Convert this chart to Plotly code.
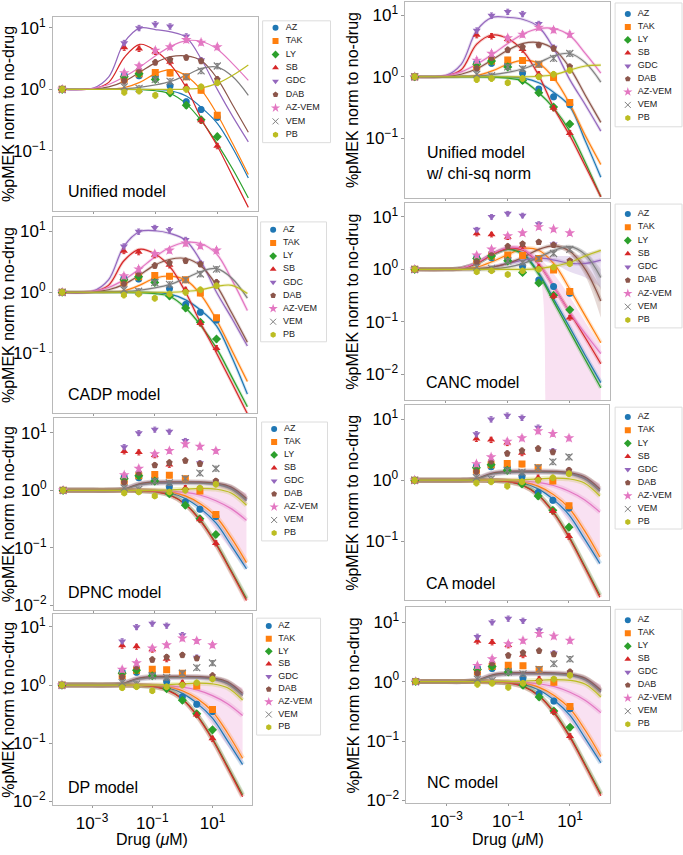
import plotly.graph_objects as go

W, H = 683, 855
FONT = "Liberation Sans, Arial, sans-serif"

DRUGS = ["AZ", "TAK", "LY", "SB", "GDC", "DAB", "AZ-VEM", "VEM", "PB"]
COLORS = ["#1f77b4", "#ff7f0e", "#2ca02c", "#d62728", "#9467bd",
          "#8c564b", "#e377c2", "#7f7f7f", "#bcbd22"]
SYMBOLS = ["circle", "square", "diamond", "triangle-up", "triangle-down",
           "pentagon", "star", "x-thin-open", "hexagon"]

# measured data (same in every panel)
DOSE = [0.0001, 0.01, 0.03, 0.1, 0.3, 1, 3, 10]
AZ_DATA = [1.0, 1.7, 1.66, 1.6, 1.15, 0.63, 0.47, 0.35]
TAK_DATA = [1.0, 1.46, 1.8, 1.88, 1.84, 1.6, 0.97, 0.38]
LY_DATA = [1.0, 1.6, 1.8, 1.45, 0.87, 0.55, 0.32, 0.17]
SB_DATA = [1.0, 4.8, 4.6, 4.1, 2.8, 1.1, 0.31, 0.12]
GDC_DATA = [1.0, 5.7, 10.0, 11.5, 10.6, 7.3, 3.0, None]
DAB_DATA = [1.0, 1.37, 2.05, 2.75, 3.05, 3.3, 2.9, 1.46]
AZVEM_DATA = [1.0, 1.85, 2.4, 4.3, 4.9, 6.4, 5.8, 4.9]
VEM_DATA = [1.0, 1.1, 1.04, 1.45, 1.35, 1.6, 2.0, 2.4]
PB_DATA = [1.0, 0.9, 0.94, 0.8, 0.94, 1.0, 1.1, 1.28]
DATA = [AZ_DATA, TAK_DATA, LY_DATA, SB_DATA, GDC_DATA, DAB_DATA,
        AZVEM_DATA, VEM_DATA, PB_DATA]

# model curves at these doses
CURVE_DOSE = [0.0001, 0.001, 0.00316, 0.01, 0.0316, 0.1, 0.316, 1, 3.16, 10, 31.6, 100]

UNI_AZ = [1, 1, 1, 1, 1, 0.99, 0.95, 0.78, 0.5, 0.28, 0.11, 0.036]
UNI_TAK = [1, 1, 1.01, 1.07, 1.3, 1.8, 2.1, 1.65, 0.95, 0.39, 0.13, 0.041]
UNI_LY = [1, 1, 1, 1, 0.99, 0.95, 0.85, 0.58, 0.3, 0.13, 0.05, 0.017]
UNI_SB = [1, 1.03, 1.3, 3.3, 5.4, 4.3, 2.5, 1.06, 0.32, 0.12, 0.038, 0.012]
UNI_GDC = [1, 1.05, 1.6, 5.8, 9.9, 9.4, 8.6, 7.0, 3.0, 1.0, 0.36, 0.14]
UNI_DAB = [1, 1.02, 1.1, 1.35, 1.9, 2.7, 3.4, 3.5, 2.9, 1.5, 0.55, 0.2]
UNI_AZVEM = [1, 1.04, 1.2, 1.6, 2.3, 3.5, 5.0, 6.2, 6.0, 4.5, 2.6, 1.4]
UNI_VEM = [1, 1, 1.01, 1.03, 1.08, 1.18, 1.35, 1.7, 2.2, 2.3, 1.6, 0.8]
UNI_PB = [1, 1, 1, 1, 1, 1, 1, 1.01, 1.06, 1.25, 1.7, 2.5]

CHI_AZ = [1, 1, 1, 1, 1, 0.99, 0.95, 0.8, 0.55, 0.33, 0.09, 0.023]
CHI_TAK = [1, 1, 1.01, 1.05, 1.25, 1.6, 1.85, 1.65, 0.93, 0.36, 0.11, 0.037]
CHI_LY = [1, 1, 1, 1, 0.99, 0.95, 0.85, 0.55, 0.3, 0.13, 0.04, 0.011]
CHI_SB = [1, 1.03, 1.3, 3.4, 4.8, 4.2, 2.6, 1.05, 0.3, 0.11, 0.035, 0.011]
CHI_GDC = [1, 1.05, 1.6, 5.7, 9.3, 9.3, 8.6, 6.5, 2.8, 0.9, 0.35, 0.13]
CHI_DAB = [1, 1.02, 1.1, 1.35, 1.9, 2.7, 3.5, 3.6, 2.8, 1.4, 0.5, 0.18]
CHI_AZVEM = [1, 1.04, 1.2, 1.6, 2.3, 3.5, 5.0, 6.1, 6.1, 4.7, 2.4, 1.15]
CHI_VEM = [1, 1, 1.01, 1.03, 1.08, 1.18, 1.35, 1.7, 2.2, 2.4, 1.7, 0.82]
CHI_PB = [1, 1, 1, 1, 1, 1, 1, 1.02, 1.08, 1.28, 1.5, 1.55]

CADP_AZ = [1, 1, 1, 1, 1, 0.99, 0.93, 0.75, 0.5, 0.28, 0.085, 0.021]
CADP_TAK = [1, 1, 1.01, 1.06, 1.3, 1.7, 1.85, 1.6, 0.9, 0.35, 0.11, 0.034]
CADP_LY = [1, 1, 1, 1, 0.99, 0.95, 0.85, 0.55, 0.28, 0.12, 0.04, 0.013]
CADP_SB = [1, 1.03, 1.3, 3.3, 5.1, 4.3, 2.6, 1.0, 0.3, 0.1, 0.032, 0.01]
CADP_GDC = [1, 1.05, 1.6, 5.7, 9.9, 10.3, 9.3, 7.2, 3.2, 1.0, 0.37, 0.13]
CADP_DAB = [1, 1.02, 1.1, 1.35, 1.9, 2.8, 3.5, 3.6, 2.7, 1.3, 0.45, 0.15]
CADP_AZVEM = [1, 1.04, 1.2, 1.6, 2.4, 3.8, 5.5, 6.6, 6.3, 4.3, 1.6, 0.5]
CADP_VEM = [1, 1, 1.01, 1.03, 1.08, 1.18, 1.35, 1.7, 2.2, 2.45, 1.7, 0.8]
CADP_PB = [1, 1, 1, 1, 1, 1, 1, 1.03, 1.1, 1.25, 1.3, 0.95]

CANC_AZ = [1, 1, 1.05, 1.3, 1.9, 2.4, 2.0, 0.85, 0.26, 0.078, 0.023, 0.007]
CANC_TAK = [1, 1, 1.02, 1.1, 1.4, 1.9, 2.5, 2.3, 1.25, 0.42, 0.13, 0.04]
CANC_LY = [1, 1, 1.05, 1.3, 1.9, 2.4, 1.9, 0.8, 0.23, 0.066, 0.019, 0.0056]
CANC_SB = [1, 1, 1.05, 1.3, 1.9, 2.5, 2.3, 1.25, 0.45, 0.15, 0.05, 0.016]
CANC_GDC = [1, 1, 1, 1.02, 1.1, 1.3, 1.5, 1.65, 1.5, 1.3, 1.3, 1.5]
CANC_DAB = [1, 1, 1, 1.02, 1.1, 1.3, 1.7, 2.4, 2.8, 2.2, 1.0, 0.25]
CANC_AZVEM = [1, 1, 1.05, 1.35, 2.0, 2.6, 2.4, 1.3, 0.45, 0.15, 0.06, 0.025]
CANC_VEM = [1, 1, 1, 1, 1.02, 1.1, 1.3, 1.7, 2.3, 2.7, 1.9, 0.7]
CANC_PB = [1, 1, 1, 1, 1, 1, 1, 1.03, 1.15, 1.35, 1.8, 2.3]

FLAT_AZ = [1, 1, 1, 1, 0.99, 0.97, 0.9, 0.72, 0.48, 0.27, 0.11, 0.043]
FLAT_TAK = [1, 1, 1, 1, 0.99, 0.98, 0.93, 0.8, 0.58, 0.35, 0.15, 0.055]
FLAT_LY = [1, 1, 1, 1, 0.99, 0.95, 0.83, 0.58, 0.3, 0.12, 0.04, 0.013]
FLAT_SB = [1, 1, 1, 1, 0.99, 0.95, 0.82, 0.57, 0.29, 0.115, 0.038, 0.012]
FLAT_GDC = [1, 1, 1, 1.05, 1.28, 1.36, 1.37, 1.37, 1.36, 1.3, 1.1, 0.68]
FLAT_DAB = [1, 1, 1, 1.06, 1.3, 1.4, 1.41, 1.41, 1.4, 1.34, 1.14, 0.72]
FLAT_AZVEM = [1, 1, 1, 1, 1, 0.99, 0.97, 0.92, 0.82, 0.66, 0.48, 0.3]
FLAT_VEM = [1, 1, 1, 1.04, 1.25, 1.33, 1.34, 1.34, 1.33, 1.27, 1.06, 0.66]
FLAT_PB = [1, 1, 1, 1, 1, 1, 1.02, 1.05, 1.08, 1.05, 0.9, 0.55]

# uncertainty bands (upper, lower)
CANC_AZVEM_HI = [1, 1, 1.06, 1.4, 2.1, 2.8, 2.7, 1.7, 0.8, 0.3, 0.1, 0.035]
CANC_AZVEM_LO = [1, 1, 1.04, 1.3, 1.9, 2.4, 2.1, 0.9, 0.0001, 0.0001, 0.0001, 0.0001]
CANC_GDC_HI = [1, 1, 1, 1.03, 1.15, 1.4, 1.65, 1.85, 1.8, 1.8, 2.0, 2.4]
CANC_GDC_LO = [1, 1, 1, 1.01, 1.05, 1.2, 1.35, 1.45, 1.25, 0.9, 0.7, 0.45]
CANC_DAB_HI = [1, 1, 1, 1.02, 1.12, 1.35, 1.8, 2.5, 3.0, 2.5, 1.3, 0.45]
CANC_DAB_LO = [1, 1, 1, 1.02, 1.08, 1.25, 1.6, 2.3, 2.6, 1.9, 0.75, 0.12]
CANC_VEM_HI = [1, 1, 1, 1, 1.02, 1.12, 1.35, 1.8, 2.5, 2.9, 2.2, 1.0]
CANC_VEM_LO = [1, 1, 1, 1, 1.02, 1.08, 1.25, 1.6, 2.1, 2.5, 1.6, 0.4]
FLAT_AZVEM_HI = [1, 1, 1, 1, 1, 1.0, 1.02, 1.06, 1.12, 1.15, 1.1, 0.9]
FLAT_AZVEM_LO = [1, 1, 1, 1, 1, 0.97, 0.9, 0.75, 0.45, 0.2, 0.09, 0.04]
FLAT_DAB_HI = [1, 1, 1, 1.08, 1.36, 1.46, 1.47, 1.47, 1.46, 1.42, 1.25, 0.85]
FLAT_DAB_LO = [1, 1, 1, 1.02, 1.2, 1.28, 1.29, 1.29, 1.28, 1.2, 0.97, 0.56]

UNI = [UNI_AZ, UNI_TAK, UNI_LY, UNI_SB, UNI_GDC, UNI_DAB, UNI_AZVEM, UNI_VEM, UNI_PB]
CHI = [CHI_AZ, CHI_TAK, CHI_LY, CHI_SB, CHI_GDC, CHI_DAB, CHI_AZVEM, CHI_VEM, CHI_PB]
CADP = [CADP_AZ, CADP_TAK, CADP_LY, CADP_SB, CADP_GDC, CADP_DAB, CADP_AZVEM, CADP_VEM, CADP_PB]
CANC = [CANC_AZ, CANC_TAK, CANC_LY, CANC_SB, CANC_GDC, CANC_DAB, CANC_AZVEM, CANC_VEM, CANC_PB]
FLAT = [FLAT_AZ, FLAT_TAK, FLAT_LY, FLAT_SB, FLAT_GDC, FLAT_DAB, FLAT_AZVEM, FLAT_VEM, FLAT_PB]
CANC_BANDS = [(6, CANC_AZVEM_HI, CANC_AZVEM_LO), (4, CANC_GDC_HI, CANC_GDC_LO),
              (5, CANC_DAB_HI, CANC_DAB_LO), (7, CANC_VEM_HI, CANC_VEM_LO)]
FLAT_BANDS = [(6, FLAT_AZVEM_HI, FLAT_AZVEM_LO), (5, FLAT_DAB_HI, FLAT_DAB_LO)]

Y_TICKVALS = [0.01, 0.1, 1, 10]
Y_TICKTEXT = ["10<sup>−2</sup>", "10<sup>−1</sup>", "10<sup>0</sup>", "10<sup>1</sup>"]
X_TICKVALS = [0.001, 0.1, 10]
X_TICKTEXT = ["10<sup>−3</sup>", "10<sup>−1</sup>", "10<sup>1</sup>"]

# layout of each panel in pixels: frame (l, t, r, b), y range, legend box, legend first/last row
PANELS = [
    dict(title="Unified model", curves=UNI, bands=[], halo=0, frame=(52, 16, 257, 212),
         yr=(-1.98, 1.18), tpos=(0.065, 0.1), leg=(262, 20, 330, 143, 27, 135), bottom=False),
    dict(title="CADP model", curves=CADP, bands=[], halo=3, frame=(52, 218, 256, 416),
         yr=(-1.99, 1.24), tpos=(0.065, 0.095), leg=(260, 223, 326, 344, 231, 337), bottom=False),
    dict(title="DPNC model", curves=FLAT, bands=FLAT_BANDS, halo=5, frame=(53, 421, 255, 615),
         yr=(-2.09, 1.26), tpos=(0.06, 0.09), leg=(261, 425, 327, 545, 432, 537), bottom=False),
    dict(title="DP model", curves=FLAT, bands=FLAT_BANDS, halo=5, frame=(52, 619, 251, 812),
         yr=(-2.07, 1.22), tpos=(0.065, 0.093), leg=(256, 623, 320, 741, 631, 733), bottom=True),
    dict(title="Unified model<br>w/ chi-sq norm", curves=CHI, bands=[], halo=3, frame=(405, 1, 610, 199),
         yr=(-1.98, 1.22), tpos=(0.09, 0.18), leg=(615, 2, 682, 127, 13, 118), bottom=False),
    dict(title="CANC model", curves=CANC, bands=CANC_BANDS, halo=4, frame=(405, 204, 610, 403),
         yr=(-2.49, 1.26), tpos=(0.09, 0.09), leg=(615, 205, 682, 330, 215, 322), bottom=False),
    dict(title="CA model", curves=FLAT, bands=FLAT_BANDS, halo=5, frame=(405, 408, 609, 605),
         yr=(-1.97, 1.23), tpos=(0.09, 0.086), leg=(615, 410, 682, 533, 420, 526), bottom=False),
    dict(title="NC model", curves=FLAT, bands=FLAT_BANDS, halo=5, frame=(406, 612, 610, 810),
         yr=(-2.05, 1.25), tpos=(0.09, 0.106), leg=(615, 614, 682, 737, 625, 730), bottom=True),
]


def rgba(hexc, a):
    h = hexc.lstrip("#")
    return f"rgba({int(h[0:2], 16)},{int(h[2:4], 16)},{int(h[4:6], 16)},{a})"


def px(x):
    return x / W


def py(y):
    return 1 - y / H


fig = go.Figure()
layout = {}
shapes = []
annotations = []

for i, p in enumerate(PANELS):
    k = i + 1
    xa = "x" if k == 1 else f"x{k}"
    ya = "y" if k == 1 else f"y{k}"
    l, t, r, b = p["frame"]
    # bands
    for (d, hi, lo) in p["bands"]:
        fig.add_trace(go.Scatter(x=CURVE_DOSE, y=hi, xaxis=xa, yaxis=ya, mode="lines",
                                 line=dict(width=0, shape="spline", color=COLORS[d]),
                                 showlegend=False, hoverinfo="skip"))
        fig.add_trace(go.Scatter(x=CURVE_DOSE, y=lo, xaxis=xa, yaxis=ya, mode="lines",
                                 line=dict(width=0, shape="spline", color=COLORS[d]),
                                 fill="tonexty", fillcolor=rgba(COLORS[d], 0.22),
                                 showlegend=False, hoverinfo="skip"))
    # curves
    for d in range(9):
        if p["halo"] > 0:
            fig.add_trace(go.Scatter(x=CURVE_DOSE, y=p["curves"][d], xaxis=xa, yaxis=ya,
                                     mode="lines",
                                     line=dict(width=p["halo"], shape="spline",
                                               color=rgba(COLORS[d], 0.22)),
                                     showlegend=False, hoverinfo="skip"))
        fig.add_trace(go.Scatter(x=CURVE_DOSE, y=p["curves"][d], xaxis=xa, yaxis=ya,
                                 mode="lines", line=dict(width=1.2, shape="spline", color=COLORS[d]),
                                 showlegend=False, hoverinfo="skip"))
    # data points
    for d in range(9):
        open_sym = SYMBOLS[d].endswith("open")
        fig.add_trace(go.Scatter(
            x=DOSE, y=DATA[d], xaxis=xa, yaxis=ya, mode="markers",
            marker=dict(symbol=SYMBOLS[d], size=7 if d != 6 else 8, color=COLORS[d],
                        line=dict(width=1.2 if open_sym else 0, color=COLORS[d])),
            error_y=dict(type="percent", value=10, thickness=1, width=1.5, color=COLORS[d]),
            showlegend=False, name=DRUGS[d]))

    layout["xaxis" if k == 1 else f"xaxis{k}"] = dict(
        type="log", domain=[px(l), px(r)], range=[-4.3, 2.3], anchor=ya,
        showline=True, mirror=True, linecolor="#b8b8b8", linewidth=1,
        showgrid=False, zeroline=False, ticks="outside", ticklen=2, tickcolor="#999",
        tickvals=X_TICKVALS, ticktext=X_TICKTEXT, showticklabels=p["bottom"],
        tickfont=dict(size=17, family=FONT, color="black"))
    layout["yaxis" if k == 1 else f"yaxis{k}"] = dict(
        type="log", domain=[py(b), py(t)], range=list(p["yr"]), anchor=xa,
        showline=True, mirror=True, linecolor="#b8b8b8", linewidth=1,
        showgrid=False, zeroline=False, ticks="outside", ticklen=3, tickcolor="#999",
        tickvals=Y_TICKVALS, ticktext=Y_TICKTEXT,
        tickfont=dict(size=17, family=FONT, color="black"),
        title=dict(text="%pMEK norm to no-drug", standoff=2,
                   font=dict(size=16, family=FONT, color="black")))
    if p["bottom"]:
        annotations.append(dict(text="Drug (<i>μ</i>M)", xref=f"{xa} domain", yref="paper",
                                x=0.5, y=py(846), xanchor="center", yanchor="middle",
                                showarrow=False, font=dict(size=16, family=FONT, color="black")))

    # panel title
    annotations.append(dict(text=p["title"], xref=f"{xa} domain", yref=f"{ya} domain",
                            x=p["tpos"][0], y=p["tpos"][1], xanchor="left", yanchor="middle",
                            align="left", showarrow=False,
                            font=dict(size=16, family=FONT, color="black")))

    # legend
    bl, bt, br, bb, fy, ly = p["leg"]
    slot = (ly - fy) / 8
    lk = k + 8
    lxa, lya = f"x{lk}", f"y{lk}"
    layout[f"xaxis{lk}"] = dict(domain=[px(bl), px(br)], range=[0, 1], visible=False, anchor=lya,
                                fixedrange=True)
    layout[f"yaxis{lk}"] = dict(domain=[py(ly + slot / 2), py(fy - slot / 2)], range=[8.5, -0.5],
                                visible=False, anchor=lxa, fixedrange=True)
    shapes.append(dict(type="rect", xref="paper", yref="paper", x0=px(bl), x1=px(br),
                       y0=py(bb), y1=py(bt), line=dict(color="#dcdcdc", width=1),
                       fillcolor="white", layer="below"))
    for d in range(9):
        open_sym = SYMBOLS[d].endswith("open")
        fig.add_trace(go.Scatter(
            x=[0.19], y=[d], xaxis=lxa, yaxis=lya, mode="markers",
            marker=dict(symbol=SYMBOLS[d], size=6 if d != 6 else 7, color=COLORS[d],
                        line=dict(width=1 if open_sym else 0, color=COLORS[d])),
            showlegend=False, hoverinfo="skip"))
    fig.add_trace(go.Scatter(
        x=[0.34] * 9, y=list(range(9)), xaxis=lxa, yaxis=lya, mode="text",
        text=DRUGS, textposition="middle right",
        textfont=dict(size=9, family=FONT, color="#222"),
        showlegend=False, hoverinfo="skip"))

fig.update_layout(
    width=W, height=H, margin=dict(l=0, r=0, t=0, b=0),
    paper_bgcolor="white", plot_bgcolor="white",
    showlegend=False, shapes=shapes, annotations=annotations,
    font=dict(family=FONT, color="black"),
    **layout)

# the page's default 8px body margin would shift the whole figure; remove it
fig.write_html("out.html", config={"displayModeBar": False},
               post_script="document.body.style.margin='0px';")
